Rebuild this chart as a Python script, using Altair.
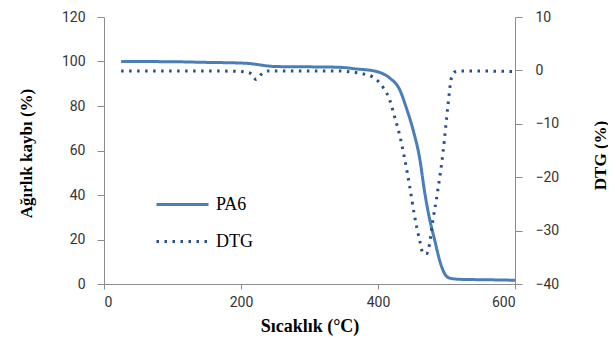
import altair as alt
import pandas as pd

# PA6 weight curve (left axis)
pa6_temp = [25, 100, 150, 200, 215, 227, 242, 257, 300, 344, 370, 392, 405, 417, 432, 441, 451, 461,
            468, 475, 483, 490, 497, 505, 519, 560, 600]
pa6_val = [100.0, 99.9, 99.6, 99.3, 99.0, 98.5, 97.9, 97.7, 97.6, 97.4, 96.6, 95.9, 94.8, 92.6, 87.1,
           79.5, 69.5, 56.2, 41.5, 29.7, 19.4, 10.6, 4.8, 2.6, 2.1, 1.9, 1.7]

# DTG curve (right axis)
dtg_temp = [25, 100, 150, 200, 215, 222, 230, 240, 300, 344, 360, 380, 392, 407, 417, 424, 432, 439,
            446, 453, 461, 466, 471, 474, 480, 487, 495, 502, 507, 512, 520, 600]
dtg_val = [-0.1, -0.1, -0.1, -0.2, -0.6, -1.7, -0.7, -0.1, -0.1, -0.1, -0.3, -0.7, -1.2, -3.1, -5.5,
           -8.6, -12.3, -16.6, -21.5, -27.0, -31.9, -34.3, -34.3, -33.3, -28.2, -22.7, -15.3, -6.7,
           -1.5, -0.3, -0.1, -0.2]

series = ["PA6", "DTG"]
colors = ["#4a7ebb", "#27508a"]
dashes = [[1, 0], [2.5, 5.5]]

x_ticks = [0, 200, 400, 600]
left_ticks = [0, 20, 40, 60, 80, 100, 120]
right_ticks = [-40, -30, -20, -10, 0, 10]

df_pa6 = pd.DataFrame({"T": pa6_temp, "v": pa6_val, "series": "PA6"})
df_dtg = pd.DataFrame({"T": dtg_temp, "v": dtg_val, "series": "DTG"})

axis_common = dict(
    grid=False,
    domainColor="#8c8c8c",
    tickColor="#8c8c8c",
    labelFont="Roboto",
    labelFontSize=14,
    labelColor="#333333",
    titleFont="Liberation Serif",
    titleFontWeight="bold",
    titleColor="#000000",
    titleBaseline="middle",
)

x_enc = alt.X(
    "T:Q",
    scale=alt.Scale(domain=[0, 600], nice=False),
    axis=alt.Axis(values=x_ticks, title="Sıcaklık (°C)", labelPadding=6, tickSize=5,
                  titleY=42, titleFontSize=18, **axis_common),
)

legend = alt.Legend(
    title=None,
    orient="none",
    legendX=51,
    legendY=160,
    symbolType="stroke",
    symbolSize=2704,
    symbolStrokeWidth=3,
    labelFont="Liberation Serif",
    labelFontSize=18,
    labelColor="#000000",
    labelOffset=6,
    rowPadding=-6,
)

color_enc = alt.Color("series:N", scale=alt.Scale(domain=series, range=colors), legend=legend)
dash_enc = alt.StrokeDash("series:N", scale=alt.Scale(domain=series, range=dashes), legend=legend)

left = alt.Chart(df_pa6).mark_line(strokeWidth=3, interpolate="monotone").encode(
    x=x_enc,
    y=alt.Y("v:Q", scale=alt.Scale(domain=[0, 120], nice=False),
            axis=alt.Axis(values=left_ticks, title="Ağırlık kaybı (%)", labelPadding=12, tickSize=7,
                          titleFontSize=17, titleAngle=270, titleX=-78, titleY=136, **axis_common)),
    color=color_enc,
    strokeDash=dash_enc,
)

right = alt.Chart(df_dtg).mark_line(strokeWidth=3, interpolate="monotone").encode(
    x=x_enc,
    y=alt.Y("v:Q", scale=alt.Scale(domain=[-40, 10], nice=False),
            axis=alt.Axis(values=right_ticks, orient="right", title="DTG (%)", labelPadding=13, tickSize=7,
                          titleFontSize=17, titleAngle=270, titleX=85, titleY=138, **axis_common)),
    color=color_enc,
    strokeDash=dash_enc,
)

chart = alt.layer(left, right).resolve_scale(y="independent").properties(
    width=411,
    height=267,
    autosize=alt.AutoSizeParams(type="none"),
    padding={"left": 96, "top": 9, "right": 93, "bottom": 56},
).configure_view(stroke=None)

chart.save("out.html", embed_options={"renderer": "svg", "actions": False})
